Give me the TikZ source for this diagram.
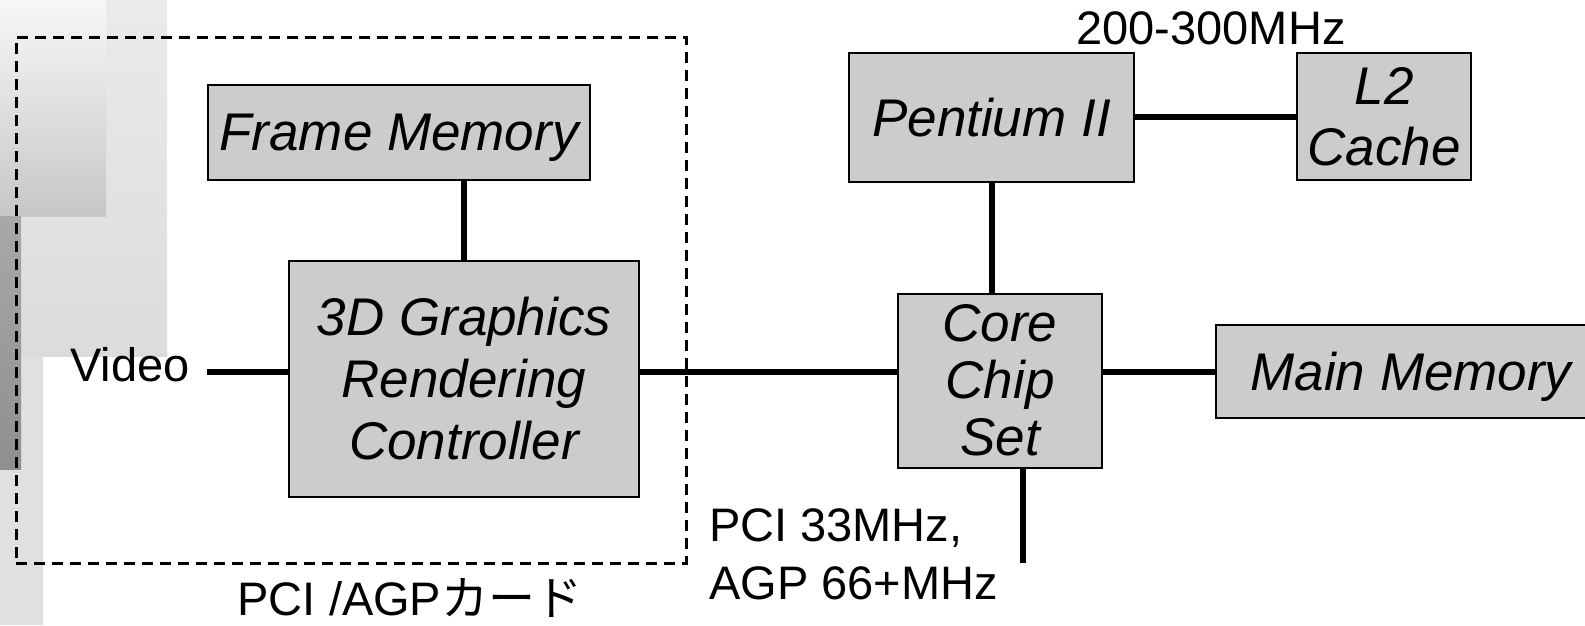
\documentclass[tikz,border=0pt]{standalone}
\usepackage{fontspec}
\setmainfont{Liberation Sans}
\newfontfamily\jpfont{Noto Sans CJK JP}
\definecolor{boxgray}{HTML}{CCCCCC}
\definecolor{bglight}{HTML}{E0E0E0}
\begin{document}
\begin{tikzpicture}[x=1pt,y=-1pt,
  box/.style={draw=black, line width=2pt, fill=boxgray, inner sep=0pt,
    font=\fontsize{53}{62}\selectfont\itshape, align=center},
  lbl/.style={inner sep=0pt, font=\fontsize{47}{58}\selectfont},
  wire/.style={line width=6pt},
  cardbox/.style={draw=black, line width=3pt, dash pattern=on 11pt off 7pt, inner sep=0pt}
]
\useasboundingbox (0,0) rectangle (1585,625);
% slide decoration
\shade[top color=black!8, bottom color=black!14] (0,0) rectangle (167,356);
\fill[bglight] (0,356) rectangle (43,625);
\shade[top color=black!3, bottom color=black!22] (0,0) rectangle (106,216);
\shade[top color=black!34, bottom color=black!44] (0,216) rectangle (21,469);
% dashed card outline
\node[cardbox, minimum width=670pt, minimum height=526pt] (card) at (351,300) {};
% boxes
\node[box, minimum width=382pt, minimum height=95pt, text depth=0pt] (fm) at (399,132.5) {Frame Memory};
\node[box, minimum width=350pt, minimum height=236pt] (gr) at (464,379) {3D Graphics\\Rendering\\Controller};
\node[box, minimum width=285pt, minimum height=129pt] (pt) at (991.5,117.5) {Pentium II};
\node[box, minimum width=174pt, minimum height=127pt, font=\fontsize{53}{61}\selectfont\itshape] (l2) at (1384,116.5) {L2\\Cache};
\node[box, minimum width=204pt, minimum height=174pt, font=\fontsize{53}{57}\selectfont\itshape] (cc) at (1000,380.5) {Core\\Chip\\Set};
\node[box, minimum width=390pt, minimum height=93pt, text depth=0pt] (mm) at (1411,371.5) {Main Memory};
% labels
\node[lbl, anchor=base west] (video) at (70,381) {Video};
\node[lbl, anchor=base] (freq) at (1211,44) {200-300MHz};
\node[lbl, anchor=north west, align=left] (pci) at (709,508) {PCI 33MHz,\\AGP 66+MHz};
\node[lbl, anchor=base] (cardlbl) at (410,615) {PCI /AGP{\jpfont カード}};
% connectors
\coordinate (bus) at (0,372);
\coordinate (vid) at (207,372);
\coordinate (pcibus) at (1023,563);
\draw[wire] (vid) -- (gr.west |- vid);
\draw[wire] (gr.east |- bus) -- (cc.west |- bus);
\draw[wire] (cc.east |- bus) -- (mm.west |- bus);
\draw[wire] (gr.north |- fm.south) -- (gr.north);
\draw[wire] (pt.south) -- (pt.south |- cc.north);
\draw[wire] (pt.east |- l2.west) -- (l2.west);
\draw[wire] (cc.south -| pcibus) -- (pcibus);
\end{tikzpicture}
\end{document}
